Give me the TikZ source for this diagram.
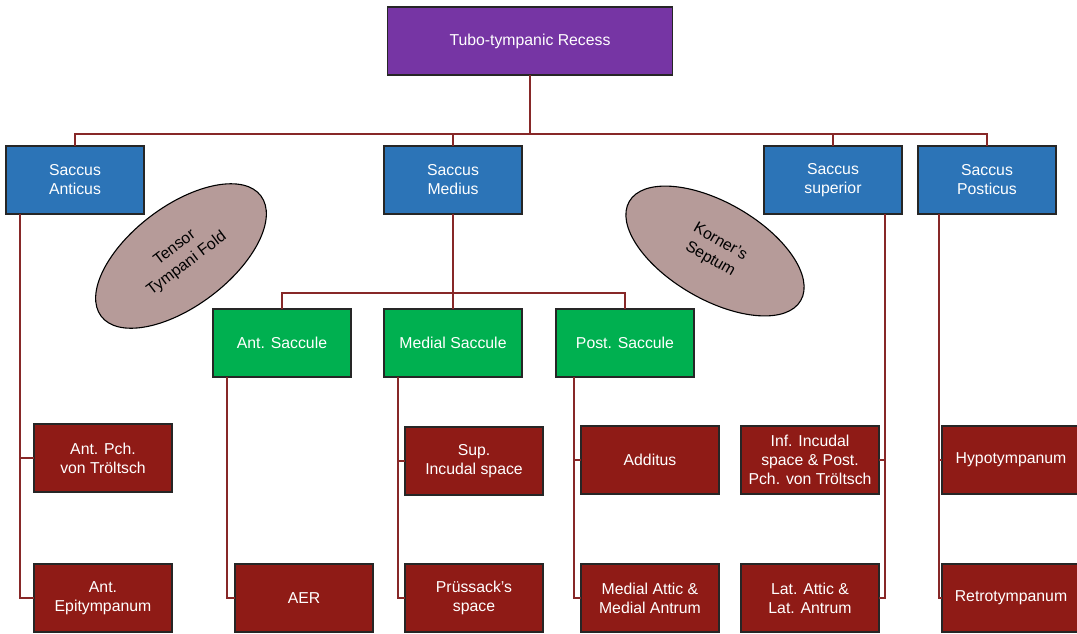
\documentclass[tikz,border=0pt]{standalone}
\usepackage{fontspec}
\setmainfont{Liberation Sans}
\usepackage{tikz}
\usetikzlibrary{shapes.geometric, positioning, calc}
\definecolor{recesspurple}{RGB}{118, 53, 164}
\definecolor{saccusblue}{RGB}{44, 116, 183}
\definecolor{sacculegreen}{RGB}{0, 176, 80}
\definecolor{spacered}{RGB}{143, 27, 22}
\definecolor{foldbrown}{RGB}{182, 155, 153}
\definecolor{linkred}{RGB}{135, 40, 40}

\begin{document}
\begin{tikzpicture}[x=1pt, y=-1pt,
    box/.style={draw=black!85, line width=1.1pt, minimum width=138pt, minimum height=68pt,
                inner sep=0pt, outer sep=0pt, align=center, text=white,
                font=\fontsize{15.8}{19}\selectfont},
    recess/.style={box, fill=recesspurple, minimum width=285pt},
    saccus/.style={box, fill=saccusblue},
    saccule/.style={box, fill=sacculegreen},
    space/.style={box, fill=spacered},
    fold/.style={ellipse, draw=black, line width=1.1pt, fill=foldbrown, inner sep=0pt,
                 minimum width=200pt, minimum height=100pt, align=center,
                 font=\fontsize{15.8}{20}\selectfont},
    link/.style={draw=linkred, line width=1.3pt}]
    \useasboundingbox (0,0) rectangle (1077,633);

    % Top
    \node[recess] (recess) at (530,41) {Tubo-tympanic Recess};

    % Sacci
    \node[saccus] (anticus) at (75,180) {Saccus\\Anticus};
    \node[saccus] (medius) at (453,180) {Saccus\\Medius};
    \node[saccus] (superior) at (833,180) {Saccus\\superior};
    \node[saccus] (posticus) at (987,180) {Saccus\\Posticus};

    % Folds
    \node[fold, rotate=37] (tensor) at (181,256) {Tensor\\Tympani Fold};
    \node[fold, rotate=-30, minimum width=198pt, minimum height=97pt] (korner) at (715,251) {Korner's\\Septum};

    % Saccules
    \node[saccule] (antsac) at (282,343) {Ant. Saccule};
    \node[saccule] (medsac) at (453,343) {Medial Saccule};
    \node[saccule] (postsac) at (625,343) {Post. Saccule};

    % Spaces
    \node[space] (antpch) at (103,458) {Ant. Pch.\\von Tröltsch};
    \node[space] (antepi) at (103,598) {Ant.\\Epitympanum};
    \node[space] (aer) at (304,598) {AER};
    \node[space] (supinc) at (474,461) {Sup.\\Incudal space};
    \node[space] (prussak) at (474,598) {Prüssack's\\space};
    \node[space] (additus) at (650,460) {Additus};
    \node[space] (medattic) at (650,598) {Medial Attic \&\\Medial Antrum};
    \node[space] (infinc) at (810,460) {Inf. Incudal\\space \& Post.\\Pch. von Tröltsch};
    \node[space] (latattic) at (810,598) {Lat. Attic \&\\Lat. Antrum};
    \node[space] (hypo) at (1011,460) {Hypotympanum};
    \node[space] (retro) at (1011,598) {Retrotympanum};

    % Buses
    \coordinate (bus) at (530,134);
    \coordinate (gbus) at (453,293);
    \draw[link] (recess.south) -- (bus);
    \draw[link] (anticus.north) -- (anticus.north |- bus) -- (posticus.north |- bus) -- (posticus.north);
    \foreach \n in {medius, superior}
        \draw[link] (\n.north) -- (\n.north |- bus);
    \draw[link] (medius.south) -- (medsac.north);
    \draw[link] (antsac.north) -- (antsac.north |- gbus) -- (postsac.north |- gbus) -- (postsac.north);

    % Trunks
    \coordinate (anttrunk) at ($(anticus.south)+(-55,0)$);
    \coordinate (astrunk) at ($(antsac.south)+(-55,0)$);
    \coordinate (mstrunk) at ($(medsac.south)+(-55,0)$);
    \coordinate (pstrunk) at ($(postsac.south)+(-51,0)$);
    \coordinate (suptrunk) at ($(superior.south)+(52,0)$);
    \coordinate (posttrunk) at ($(posticus.south)+(-48,0)$);
    \draw[link] (anttrunk) |- (antpch.west);
    \draw[link] (anttrunk) |- (antepi.west);
    \draw[link] (astrunk) |- (aer.west);
    \draw[link] (mstrunk) |- (supinc.west);
    \draw[link] (mstrunk) |- (prussak.west);
    \draw[link] (pstrunk) |- (additus.west);
    \draw[link] (pstrunk) |- (medattic.west);
    \draw[link] (suptrunk) |- (infinc.east);
    \draw[link] (suptrunk) |- (latattic.east);
    \draw[link] (posttrunk) |- (hypo.west);
    \draw[link] (posttrunk) |- (retro.west);
\end{tikzpicture}
\end{document}
